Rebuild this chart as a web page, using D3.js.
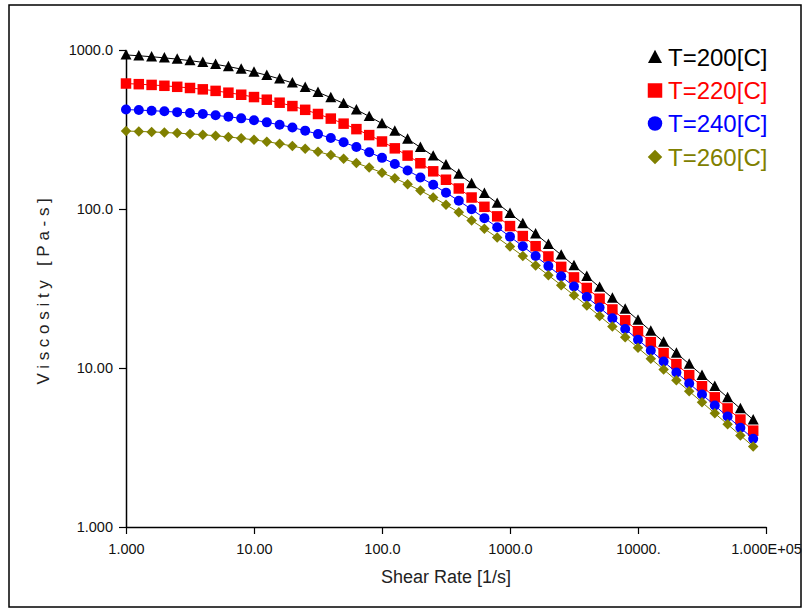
<!DOCTYPE html>
<html>
<head>
<meta charset="utf-8">
<script src="https://cdn.jsdelivr.net/npm/d3@7"></script>
<style>
  html, body { margin: 0; padding: 0; background: #fff; }
  svg { display: block; }
  text { font-family: "Liberation Sans", Arial, sans-serif; }
</style>
</head>
<body>
<svg id="chart" width="804" height="612"></svg>
<script>
// Shear rate [1/s]
const shearRates = [1, 1.259, 1.585, 1.995, 2.512, 3.162, 3.981, 5.012, 6.310, 7.943,
  10, 12.59, 15.85, 19.95, 25.12, 31.62, 39.81, 50.12, 63.10, 79.43,
  100, 125.9, 158.5, 199.5, 251.2, 316.2, 398.1, 501.2, 631.0, 794.3,
  1000, 1259, 1585, 1995, 2512, 3162, 3981, 5012, 6310, 7943,
  10000, 12589, 15849, 19953, 25119, 31623, 39811, 50119, 63096, 79433];

// Viscosity [Pa-s]
const visc200 = [931.1, 920.0, 907.2, 892.6, 876.0, 857.2, 836.2, 812.7, 786.8, 758.3,
  727.3, 693.9, 658.4, 621.0, 582.2, 542.2, 501.7, 461.2, 421.2, 382.2,
  344.7, 309.0, 275.5, 244.3, 215.6, 189.4, 165.7, 144.5, 125.5, 108.8,
  94.0, 81.06, 69.76, 59.93, 51.41, 44.05, 37.70, 32.23, 27.53, 23.51,
  20.05, 17.10, 14.58, 12.42, 10.58, 9.007, 7.668, 6.526, 5.554, 4.726];
const visc220 = [615.4, 609.7, 603.1, 595.5, 586.8, 576.9, 565.7, 553.1, 538.9, 523.2,
  505.8, 486.8, 466.1, 444.0, 420.5, 395.9, 370.3, 344.2, 317.9, 291.6,
  265.8, 240.7, 216.7, 193.9, 172.6, 152.8, 134.6, 118.1, 103.2, 89.90,
  78.05, 67.57, 58.35, 50.29, 43.25, 37.14, 31.85, 27.28, 23.34, 19.95,
  17.04, 14.54, 12.40, 10.58, 9.013, 7.678, 6.539, 5.568, 4.740, 4.034];
const visc240 = [422.0, 419.0, 415.4, 411.4, 406.7, 401.4, 395.3, 388.3, 380.5, 371.6,
  361.7, 350.7, 338.6, 325.3, 311.1, 295.8, 279.6, 262.7, 245.3, 227.6,
  209.7, 192.0, 174.7, 157.9, 141.9, 126.7, 112.6, 99.54, 87.60, 76.76,
  67.01, 58.30, 50.57, 43.74, 37.75, 32.51, 27.95, 23.99, 20.56, 17.61,
  15.06, 12.87, 10.99, 9.377, 7.997, 6.818, 5.809, 4.948, 4.214, 3.588];
const visc260 = [309.3, 307.5, 305.4, 302.9, 300.1, 296.8, 293.1, 288.8, 283.9, 278.4,
  272.2, 265.2, 257.4, 248.8, 239.4, 229.3, 218.4, 206.8, 194.6, 182.1,
  169.2, 156.2, 143.3, 130.6, 118.3, 106.4, 95.24, 84.75, 75.03, 66.11,
  58.00, 50.68, 44.14, 38.31, 33.17, 28.64, 24.68, 21.23, 18.23, 15.63,
  13.39, 11.45, 9.789, 8.361, 7.136, 6.087, 5.189, 4.423, 3.768, 3.209];

const seriesNames = ["T=200[C]", "T=220[C]", "T=240[C]", "T=260[C]"];
const seriesColors = ["#000000", "#ff0000", "#0000ff", "#808000"];
const seriesSymbols = ["triangle", "square", "circle", "diamond"];

const xTickValues = [1, 10, 100, 1000, 10000, 100000];
const xTickLabels = ["1.000", "10.00", "100.0", "1000.0", "10000.", "1.000E+05"];
const yTickValues = [1, 10, 100, 1000];
const yTickLabels = ["1.000", "10.00", "100.0", "1000.0"];

const series = [visc200, visc220, visc240, visc260].map((vals, i) => ({
  name: seriesNames[i], color: seriesColors[i], symbol: seriesSymbols[i],
  points: shearRates.map((x, j) => ({ x, y: vals[j] }))
}));

const svg = d3.select("#chart");

// outer frame
svg.append("rect").attr("x", 9).attr("y", 5).attr("width", 792).attr("height", 602)
  .attr("fill", "#fff").attr("stroke", "#000").attr("stroke-width", 1.5);

const x = d3.scaleLog().domain([1, 100000]).range([126, 766]);
const y = d3.scaleLog().domain([1, 1000]).range([527, 50]);

// axes
const xAxis = d3.axisBottom(x).tickValues(xTickValues)
  .tickFormat((d, i) => xTickLabels[i]).tickSizeInner(7).tickSizeOuter(0).tickPadding(6);
const yAxis = d3.axisLeft(y).tickValues(yTickValues)
  .tickFormat((d, i) => yTickLabels[i]).tickSizeInner(7).tickSizeOuter(0).tickPadding(6);

const gx = svg.append("g").attr("transform", `translate(0,${y(1)})`).call(xAxis);
const gy = svg.append("g").attr("transform", `translate(${x(1)},0)`).call(yAxis);
[gx, gy].forEach(g => {
  g.select(".domain").attr("stroke", "#000").attr("stroke-width", 1.5);
  g.selectAll(".tick line").attr("stroke", "#000").attr("stroke-width", 1.2);
  g.selectAll(".tick text").attr("fill", "#111").style("font-size", "14.5px")
    .style("font-family", "'Liberation Sans', Arial, sans-serif");
});
gx.selectAll(".tick text").attr("dy", "0.95em");

// axis titles
svg.append("text").attr("x", 446).attr("y", 583).attr("text-anchor", "middle")
  .style("font-size", "18px").attr("fill", "#222").text("Shear Rate [1/s]");
svg.append("text").attr("transform", "translate(49,289) rotate(-90)")
  .attr("text-anchor", "middle").style("font-size", "17px").style("letter-spacing", "4.7px")
  .attr("fill", "#222").text("Viscosity [Pa-s]");

// symbol path generator
function symbolPath(type, s) {
  const h = s / 2;
  if (type === "triangle") return `M0,${-h * 1.05}L${h},${h * 0.85}L${-h},${h * 0.85}Z`;
  if (type === "square") return `M${-h},${-h}H${h}V${h}H${-h}Z`;
  if (type === "diamond") return `M0,${-h}L${h},0L0,${h}L${-h},0Z`;
  return d3.symbol(d3.symbolCircle, Math.PI * h * h)();
}

const line = d3.line().x(d => x(d.x)).y(d => y(d.y));
const sizes = { triangle: 11, square: 10.5, circle: 10, diamond: 10.5 };

series.forEach(s => {
  const g = svg.append("g");
  g.append("path").attr("d", line(s.points)).attr("fill", "none")
    .attr("stroke", s.color).attr("stroke-width", 1);
  g.selectAll("path.m").data(s.points).join("path").attr("class", "m")
    .attr("transform", d => `translate(${x(d.x)},${y(d.y)})`)
    .attr("d", symbolPath(s.symbol, sizes[s.symbol]))
    .attr("fill", s.color);
});

// legend
const legendRows = [57, 90.5, 123.5, 157];
series.forEach((s, i) => {
  const g = svg.append("g").attr("transform", `translate(655,${legendRows[i]})`);
  g.append("path").attr("d", symbolPath(s.symbol, s.symbol === "triangle" ? 14 : 14.5)).attr("fill", s.color);
  g.append("text").attr("x", 13).attr("y", 8.5).style("font-size", "24px")
    .attr("fill", s.color).text(s.name);
});
</script>
</body>
</html>
